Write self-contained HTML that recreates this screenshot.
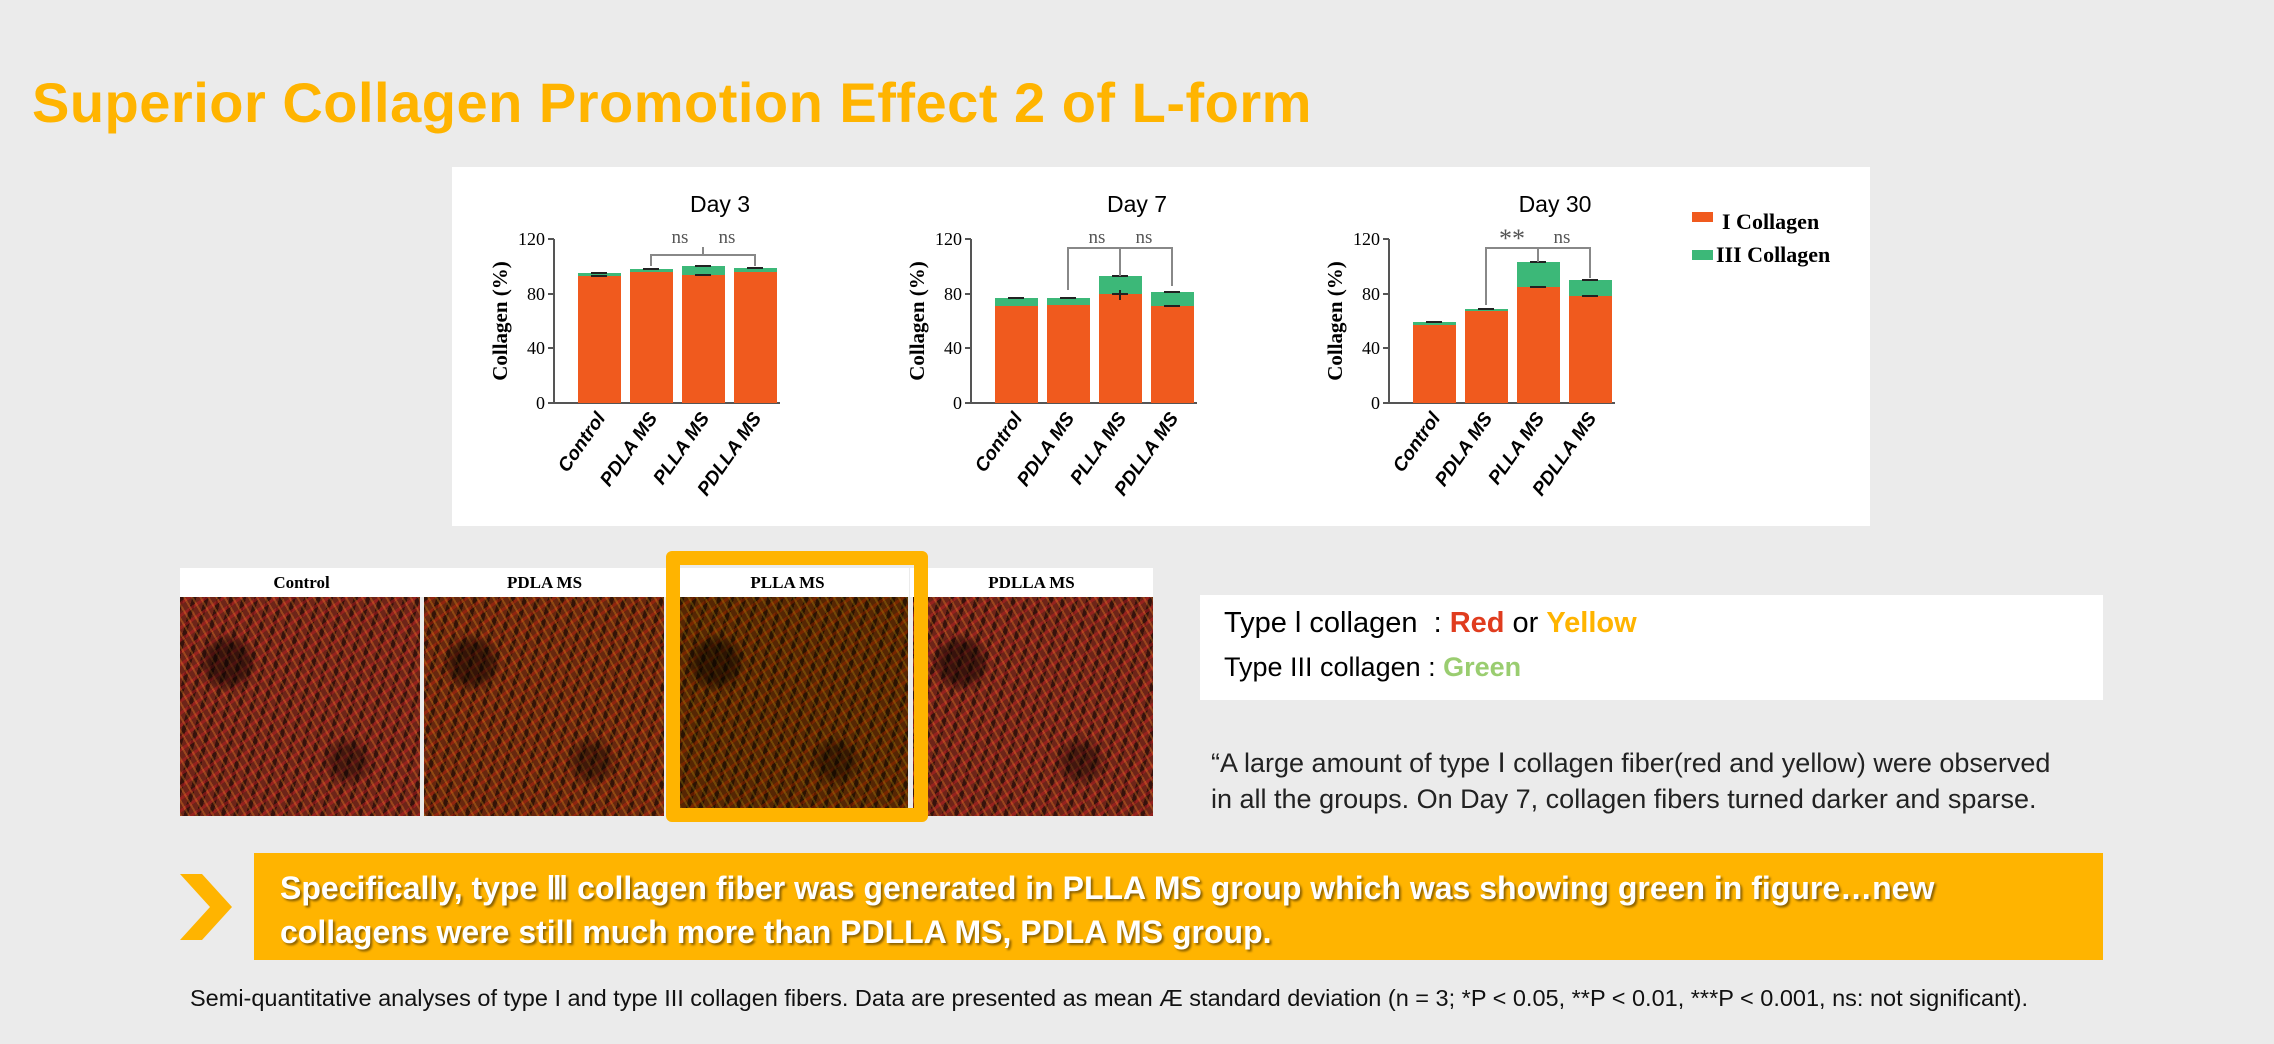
<!DOCTYPE html>
<html><head><meta charset="utf-8"><style>
body{margin:0;width:2274px;height:1044px;background:#ebebeb;position:relative;overflow:hidden;font-family:"Liberation Sans",sans-serif}
.abs{position:absolute}
.title{left:32px;top:70px;font-size:56px;font-weight:bold;color:#FFB400;white-space:nowrap;letter-spacing:0.5px}
.fib{position:absolute;top:597px;height:219px;width:240px;
background:
radial-gradient(circle at 20% 30%,rgba(0,0,0,.5) 0 18px,transparent 30px),
radial-gradient(circle at 70% 75%,rgba(0,0,0,.4) 0 14px,transparent 26px),
repeating-linear-gradient(60deg,rgba(255,150,40,.3) 0 2px,transparent 2px 7px),
repeating-linear-gradient(-35deg,rgba(210,30,40,.4) 0 3px,transparent 3px 10px),
repeating-linear-gradient(105deg,rgba(0,0,0,.5) 0 4px,transparent 4px 12px),
#6e2418}
.hd{position:absolute;top:568px;height:29px;width:243px;background:#fff;text-align:center;font:bold 17px "Liberation Serif",serif;line-height:29px}
</style></head><body>
<div class="abs title">Superior Collagen Promotion Effect 2 of L-form</div>
<div class="abs" style="left:452px;top:167px;width:1418px;height:359px;background:#fff"></div>
<svg class="abs" style="left:0;top:0" width="2274" height="1044" font-family="Liberation Serif,serif">
<text x="720" y="212" font-family="Liberation Sans,sans-serif" font-size="23" text-anchor="middle">Day 3</text>
<text x="1137" y="212" font-family="Liberation Sans,sans-serif" font-size="23" text-anchor="middle">Day 7</text>
<text x="1555" y="212" font-family="Liberation Sans,sans-serif" font-size="23" text-anchor="middle">Day 30</text>
<g stroke="#555" stroke-width="2">
<line x1="554" y1="239" x2="554" y2="403"/><line x1="554" y1="403" x2="780" y2="403"/>
<line x1="971" y1="239" x2="971" y2="403"/><line x1="971" y1="403" x2="1197" y2="403"/>
<line x1="1389" y1="239" x2="1389" y2="403"/><line x1="1389" y1="403" x2="1615" y2="403"/>
<path d="M548 239h6M548 294h6M548 348h6M548 403h6M965 239h6M965 294h6M965 348h6M965 403h6M1383 239h6M1383 294h6M1383 348h6M1383 403h6"/>
</g>
<g font-size="18" text-anchor="end">
<text x="545" y="245">120</text><text x="545" y="300">80</text><text x="545" y="354">40</text><text x="545" y="409">0</text>
<text x="962" y="245">120</text><text x="962" y="300">80</text><text x="962" y="354">40</text><text x="962" y="409">0</text>
<text x="1380" y="245">120</text><text x="1380" y="300">80</text><text x="1380" y="354">40</text><text x="1380" y="409">0</text>
</g>
<g font-size="21" font-weight="bold" text-anchor="middle">
<text transform="translate(507,321) rotate(-90)">Collagen (%)</text>
<text transform="translate(924,321) rotate(-90)">Collagen (%)</text>
<text transform="translate(1342,321) rotate(-90)">Collagen (%)</text>
</g>
<g fill="#3cb878">
<rect x="578" y="273" width="43" height="130"/><rect x="630" y="269" width="43" height="134"/><rect x="682" y="266" width="43" height="137"/><rect x="734" y="268" width="43" height="135"/>
<rect x="995" y="298" width="43" height="105"/><rect x="1047" y="298" width="43" height="105"/><rect x="1099" y="276" width="43" height="127"/><rect x="1151" y="292" width="43" height="111"/>
<rect x="1413" y="322" width="43" height="81"/><rect x="1465" y="309" width="43" height="94"/><rect x="1517" y="262" width="43" height="141"/><rect x="1569" y="280" width="43" height="123"/>
</g>
<g fill="#f05a1e">
<rect x="578" y="276" width="43" height="127"/><rect x="630" y="272" width="43" height="131"/><rect x="682" y="275" width="43" height="128"/><rect x="734" y="272" width="43" height="131"/>
<rect x="995" y="306" width="43" height="97"/><rect x="1047" y="305" width="43" height="98"/><rect x="1099" y="294" width="43" height="109"/><rect x="1151" y="306" width="43" height="97"/>
<rect x="1413" y="325" width="43" height="78"/><rect x="1465" y="311" width="43" height="92"/><rect x="1517" y="287" width="43" height="116"/><rect x="1569" y="296" width="43" height="107"/>
</g>
<g stroke="#222" stroke-width="2">
<path d="M591 273h16M643 269h16M695 266h16M747 268h16M591 276h16M695 275h16M1008 298h16M1060 298h16M1112 276h16M1164 292h16M1112 294h16M1120 290v10M1164 306h16M1426 322h16M1478 309h16M1530 262h16M1530 287h16M1582 280h16M1582 296h16"/>
</g>
<g stroke="#888" stroke-width="2" fill="none">
<path d="M651 266v-11h104v11M703 255v-8"/>
<path d="M1068 290v-42h104v38M1120 276v-28"/>
<path d="M1486 305v-57h104v30M1538 262v-14"/>
</g>
<g font-size="19" fill="#555" text-anchor="middle">
<text x="680" y="243">ns</text><text x="727" y="243">ns</text>
<text x="1097" y="243">ns</text><text x="1144" y="243">ns</text>
<text x="1512" y="247" font-size="26">**</text><text x="1562" y="243">ns</text>
</g>
<g font-family="Liberation Sans,sans-serif" font-size="19" font-weight="bold" font-style="italic" text-anchor="end">
<text transform="translate(606,418) rotate(-55)">Control</text><text transform="translate(658,418) rotate(-55)">PDLA MS</text><text transform="translate(710,418) rotate(-55)">PLLA MS</text><text transform="translate(762,418) rotate(-55)">PDLLA MS</text>
<text transform="translate(1023,418) rotate(-55)">Control</text><text transform="translate(1075,418) rotate(-55)">PDLA MS</text><text transform="translate(1127,418) rotate(-55)">PLLA MS</text><text transform="translate(1179,418) rotate(-55)">PDLLA MS</text>
<text transform="translate(1441,418) rotate(-55)">Control</text><text transform="translate(1493,418) rotate(-55)">PDLA MS</text><text transform="translate(1545,418) rotate(-55)">PLLA MS</text><text transform="translate(1597,418) rotate(-55)">PDLLA MS</text>
</g>
<rect x="1692" y="212" width="21" height="10" fill="#f05a1e"/><rect x="1692" y="250" width="21" height="10" fill="#3cb878"/>
<text x="1722" y="229" font-size="22" font-weight="bold">I  Collagen</text>
<text x="1716" y="262" font-size="22" font-weight="bold">III Collagen</text>
</svg>
<div class="hd" style="left:180px">Control</div><div class="hd" style="left:423px">PDLA MS</div><div class="hd" style="left:666px">PLLA MS</div><div class="hd" style="left:910px">PDLLA MS</div>
<div class="fib" style="left:180px"></div>
<div class="fib" style="left:424px;filter:hue-rotate(10deg)"></div>
<div class="fib" style="left:668px;filter:hue-rotate(22deg) brightness(.9)"></div>
<div class="fib" style="left:913px"></div>
<div class="abs" style="left:666px;top:551px;width:234px;height:243px;border:14px solid #FFB400;border-radius:6px"></div>
<div class="abs" style="left:1200px;top:595px;width:903px;height:105px;background:#fff"></div>
<div class="abs" style="left:1224px;top:607px;font-size:29px">Type l collagen &nbsp;: <b style="color:#e03c1e">Red</b> or <b style="color:#FFB400">Yellow</b></div>
<div class="abs" style="left:1224px;top:652px;font-size:27px">Type III collagen : <b style="color:#9acd70">Green</b></div>
<div class="abs" style="left:1211px;top:745px;font-size:27px;line-height:36px;color:#222">“A large amount of type Ⅰ collagen fiber(red and yellow) were observed<br>in all the groups. On Day 7, collagen fibers turned darker and sparse.</div>
<svg class="abs" style="left:180px;top:874px" width="54" height="66"><polygon points="0,0 22,0 52,33 22,66 0,66 30,33" fill="#FFB400"/></svg>
<div class="abs" style="left:254px;top:853px;width:1849px;height:107px;background:#FFB400"></div>
<div class="abs" style="left:280px;top:866px;font-size:32px;line-height:44px;color:#fff;font-weight:bold;text-shadow:2px 2px 2px #8a6000">Specifically, type Ⅲ collagen fiber was generated in PLLA MS group which was showing green in figure…new<br>collagens were still much more than PDLLA MS, PDLA MS group.</div>
<div class="abs" style="left:190px;top:985px;font-size:23.5px;color:#111">Semi-quantitative analyses of type I and type III collagen fibers. Data are presented as mean Æ standard deviation (n = 3; *P &lt; 0.05, **P &lt; 0.01, ***P &lt; 0.001, ns: not significant).</div>
</body></html>
